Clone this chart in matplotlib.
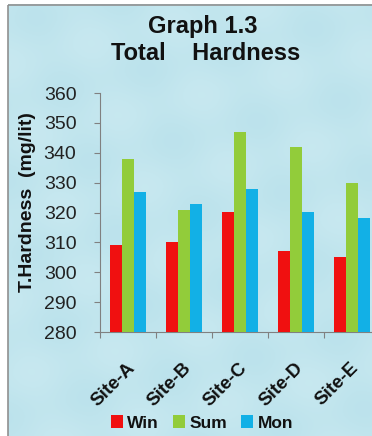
import matplotlib
matplotlib.use("Agg")
import matplotlib.pyplot as plt
import numpy as np
from matplotlib.patches import Rectangle

sites = ["Site-A", "Site-B", "Site-C", "Site-D", "Site-E"]
win = [309, 310, 320, 307, 305]
summer = [338, 321, 347, 342, 330]
monsoon = [327, 323, 328, 320, 318]
series_names = ["Win", "Sum", "Mon"]
colors = ["#f01010", "#92cc3a", "#12b0e6"]
y_ticks = [280, 290, 300, 310, 320, 330, 340, 350, 360]

plt.rcParams["font.family"] = ["Liberation Sans", "DejaVu Sans"]

W, H = 372, 436
fig = plt.figure(figsize=(W / 100, H / 100), dpi=100)
fig.patch.set_facecolor("white")

# chart area panel with a soft watery fill
bg = fig.add_axes([0, 0, 1, 1], zorder=-10)
bg.set_xlim(0, W)
bg.set_ylim(H, 0)
bg.axis("off")
yy, xx = np.mgrid[0:H, 0:W]
shade = 0.5 + 0.5 * np.sin(xx / 23.0 + yy / 37.0) * np.cos(yy / 19.0 - xx / 41.0)
base = np.array([0.78, 0.91, 0.94])
dark = np.array([0.66, 0.85, 0.90])
img = base[None, None, :] * (1 - 0.35 * shade[..., None]) + dark[None, None, :] * (0.35 * shade[..., None])
bg.imshow(img, extent=(8, W + 2, H + 2, 5), aspect="auto", zorder=0)
bg.add_patch(Rectangle((8, 5), W, H, fill=False, edgecolor="#909090", lw=1.2, zorder=1))

# plotting axes (runs past the right edge)
left, right = 100, 380
top, bottom = 93, 332
ax = fig.add_axes([left / W, 1 - bottom / H, (right - left) / W, (bottom - top) / H])
ax.patch.set_alpha(0)

x = np.arange(len(sites))
bw = 0.22
for i, (vals, c, name) in enumerate(zip([win, summer, monsoon], colors, series_names)):
    ax.bar(x + (i - 1) * bw, np.array(vals) - 280, bottom=280, width=bw,
           color=c, label=name, zorder=3)

ax.set_xlim(-0.5, len(sites) - 0.5)
ax.set_ylim(280, 360)
ax.set_yticks(y_ticks)
ax.set_yticklabels([str(t) for t in y_ticks], fontsize=14, color="#222222")
ax.set_xticks(np.arange(len(sites) + 1) - 0.5, minor=False)
ax.set_xticklabels([])
for s in ["top", "right"]:
    ax.spines[s].set_visible(False)
ax.spines["left"].set_color("#808080")
ax.spines["bottom"].set_color("#808080")
ax.tick_params(axis="y", length=4, color="#808080", pad=13)
ax.tick_params(axis="x", length=4, color="#808080")

for xi, s in zip(x, sites):
    ax.annotate(s, xy=(xi, 280), xycoords="data", xytext=(3, -24),
                textcoords="offset points", rotation=45, rotation_mode="anchor",
                ha="right", va="center", fontsize=13.5, fontweight="bold",
                color="#111111")

fig.text(28 / W, 1 - 202 / H, "T.Hardness  (mg/lit)", rotation=90, ha="center",
         va="center", fontsize=14, fontweight="bold", color="#111111")

fig.text(203 / W, 1 - 27 / H, "Graph 1.3", ha="center", va="center",
         fontsize=17, fontweight="bold", color="#111111")
fig.text(206 / W, 1 - 54 / H, "Total    Hardness", ha="center", va="center",
         fontsize=17, fontweight="bold", color="#111111")

handles, labels = ax.get_legend_handles_labels()
leg = fig.legend(handles, labels, loc="center", bbox_to_anchor=(202 / W, 1 - 423 / H),
                 ncol=3, frameon=False, handlelength=0.7, handleheight=0.7,
                 handletextpad=0.25, columnspacing=0.8,
                 prop={"size": 12.5, "weight": "bold"})
for t in leg.get_texts():
    t.set_color("#111111")

fig.savefig("out.png", dpi=100)
